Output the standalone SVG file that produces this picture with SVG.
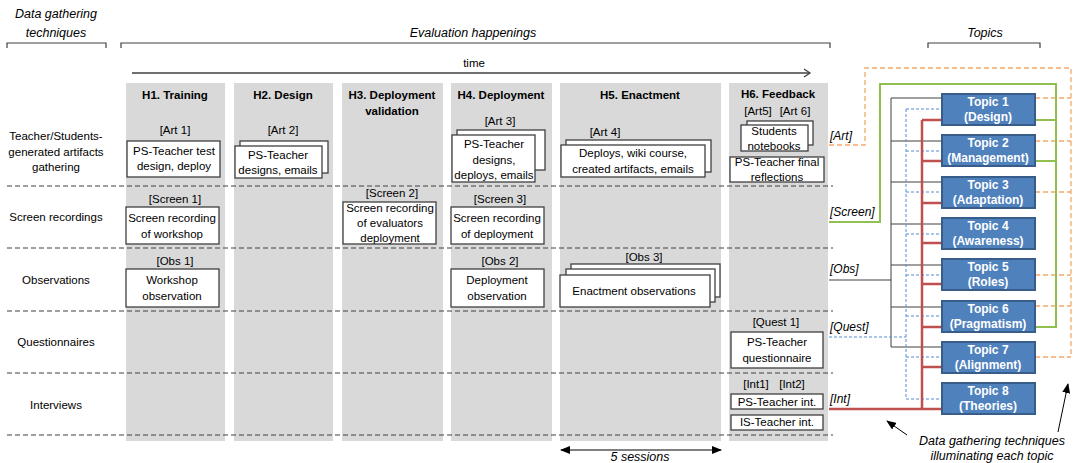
<svg xmlns="http://www.w3.org/2000/svg" width="1073" height="463" viewBox="0 0 1073 463">
<defs>
<style>
text{font-family:"Liberation Sans",Arial,sans-serif;font-size:11.5px;fill:#000;text-anchor:middle;dominant-baseline:central}
.b{font-weight:bold}
.i{font-style:italic;font-size:12.5px}
.il{font-style:italic;font-size:12px;text-anchor:start}
.col{fill:#d9d9d9}
.box{fill:#fff;stroke:#3f3f3f;stroke-width:1.3}
.row{stroke:#404040;stroke-width:1;stroke-dasharray:5,3;fill:none}
.brk{stroke:#404040;stroke-width:1.2;fill:none}
.topic rect{fill:#4f81bd;stroke:#385d8a;stroke-width:2}
.topic text{fill:#fff;font-weight:bold;font-size:12px}
.or{stroke:#f5a86a;stroke-width:1.3;stroke-dasharray:5,3;fill:none}
.gr{stroke:#92c050;stroke-width:2;fill:none}
.bk{stroke:#404040;stroke-width:1;fill:none}
.bl{stroke:#558ed5;stroke-width:1;stroke-dasharray:3,2;fill:none}
.rd{stroke:#c0504d;stroke-width:2.5;fill:none}
</style>
<marker id="chev" markerWidth="10" markerHeight="10" refX="8" refY="5" orient="auto" markerUnits="userSpaceOnUse">
<path d="M2,1 L8,5 L2,9" fill="none" stroke="#404040" stroke-width="1.3"/>
</marker>
<marker id="tri" markerWidth="10" markerHeight="8" refX="9" refY="4" orient="auto-start-reverse" markerUnits="userSpaceOnUse">
<path d="M0,0 L10,4 L0,8 Z" fill="#000"/>
</marker>
</defs>
<rect width="1073" height="463" fill="#fff"/>

<g id="headers">
<text class="i" x="56" y="14">Data gathering</text>
<text class="i" x="56" y="33">techniques</text>
<path class="brk" d="M7,48 V43 H106 V48"/>
<text class="i" x="473" y="33">Evaluation happenings</text>
<path class="brk" d="M121,48 V43 H830 V48"/>
<text class="i" x="985" y="33">Topics</text>
<path class="brk" d="M928,48 V43 H1040 V48"/>
<text x="474" y="63">time</text>
<path d="M132,73 H810" stroke="#404040" stroke-width="1.5" fill="none" marker-end="url(#chev)"/>
</g>

<g id="columns">
<rect class="col" x="126" y="83" width="99" height="358"/>
<rect class="col" x="234" y="83" width="99" height="358"/>
<rect class="col" x="342" y="83" width="101" height="358"/>
<rect class="col" x="451" y="83" width="101" height="358"/>
<rect class="col" x="560" y="83" width="161" height="358"/>
<rect class="col" x="729" y="83" width="99" height="358"/>
<text class="b" x="175" y="95">H1. Training</text>
<text class="b" x="283" y="95">H2. Design</text>
<text class="b" x="392" y="95">H3. Deployment</text>
<text class="b" x="392" y="111">validation</text>
<text class="b" x="501" y="95">H4. Deployment</text>
<text class="b" x="640" y="95">H5. Enactment</text>
<text class="b" x="778" y="94">H6. Feedback</text>
</g>

<g id="rows">
<path class="row" d="M7,186 H833 M7,248 H833 M7,311 H833 M7,373 H833 M7,435 H833"/>
<text x="56" y="136">Teacher/Students-</text>
<text x="56" y="152">generated artifacts</text>
<text x="56" y="167">gathering</text>
<text x="56" y="217">Screen recordings</text>
<text x="56" y="280">Observations</text>
<text x="56" y="342">Questionnaires</text>
<text x="56" y="405">Interviews</text>
</g>

<g id="art1">
<text x="175" y="130">[Art 1]</text>
<rect class="box" x="127" y="141" width="93" height="36"/>
<text x="174" y="151">PS-Teacher test</text>
<text x="174" y="166">design, deploy</text>
</g>
<g id="art2">
<text x="283" y="130">[Art 2]</text>
<rect class="box" x="240" y="141" width="88" height="32"/>
<rect class="box" x="235" y="146" width="87" height="32"/>
<text x="278" y="155">PS-Teacher</text>
<text x="278" y="170">designs, emails</text>
</g>
<g id="art3">
<text x="500" y="121">[Art 3]</text>
<rect class="box" x="457" y="130" width="88" height="40"/>
<rect class="box" x="452" y="135" width="83" height="47"/>
<text x="494" y="144">PS-Teacher</text>
<text x="494" y="160">designs,</text>
<text x="494" y="175">deploys, emails</text>
</g>
<g id="art4">
<text x="605" y="132">[Art 4]</text>
<rect class="box" x="566" y="140" width="145" height="32"/>
<rect class="box" x="561" y="145" width="144" height="32"/>
<text x="633" y="153">Deploys, wiki course,</text>
<text x="633" y="169">created artifacts, emails</text>
</g>
<g id="art56">
<text x="758" y="111">[Art5]</text>
<text x="795" y="111">[Art 6]</text>
<rect class="box" x="747" y="121" width="66" height="24"/>
<rect class="box" x="741" y="125" width="67" height="26"/>
<text x="774" y="131">Students</text>
<text x="774" y="146">notebooks</text>
<rect class="box" x="730" y="157" width="94" height="25"/>
<text x="777" y="162">PS-Teacher final</text>
<text x="777" y="177">reflections</text>
</g>

<g id="screen1">
<text x="175" y="199">[Screen 1]</text>
<rect class="box" x="126" y="207" width="93" height="37"/>
<text x="172" y="218">Screen recording</text>
<text x="172" y="234">of workshop</text>
</g>
<g id="screen2">
<text x="392" y="193">[Screen 2]</text>
<rect class="box" x="343" y="202" width="93" height="42"/>
<text x="390" y="208">Screen recording</text>
<text x="390" y="223">of evaluators</text>
<text x="390" y="238">deployment</text>
</g>
<g id="screen3">
<text x="500" y="199">[Screen 3]</text>
<rect class="box" x="451" y="207" width="93" height="37"/>
<text x="497" y="218">Screen recording</text>
<text x="497" y="234">of deployment</text>
</g>

<g id="obs1">
<text x="175" y="261">[Obs 1]</text>
<rect class="box" x="126" y="269" width="93" height="38"/>
<text x="172" y="280">Workshop</text>
<text x="172" y="296">observation</text>
</g>
<g id="obs2">
<text x="500" y="261">[Obs 2]</text>
<rect class="box" x="451" y="269" width="93" height="38"/>
<text x="497" y="280">Deployment</text>
<text x="497" y="296">observation</text>
</g>
<g id="obs3">
<text x="644" y="257">[Obs 3]</text>
<rect class="box" x="571" y="264" width="149" height="33"/>
<rect class="box" x="566" y="269" width="149" height="33"/>
<rect class="box" x="560" y="275" width="150" height="32"/>
<text x="634" y="291">Enactment observations</text>
</g>

<g id="quest1">
<text x="776" y="322">[Quest 1]</text>
<rect class="box" x="731" y="332" width="92" height="36"/>
<text x="777" y="342">PS-Teacher</text>
<text x="777" y="358">questionnaire</text>
</g>
<g id="int12">
<text x="756" y="384">[Int1]</text>
<text x="792" y="384">[Int2]</text>
<rect class="box" x="731" y="394" width="92" height="15"/>
<text x="777" y="402">PS-Teacher int.</text>
<rect class="box" x="731" y="415" width="92" height="15"/>
<text x="777" y="422">IS-Teacher int.</text>
</g>

<g id="connectors">
<path class="or" d="M829,145 H865 V68 H1071 V357 M1035,98 H1071 M1035,141 H1071 M1035,192 H1071 M1035,275 H1071 M1035,306 H1071 M1035,357 H1071"/>
<path class="gr" d="M829,222 H880 V84 H1056 V327 H1035 M1035,120 H1056 M1035,161 H1056"/>
<path class="bk" d="M829,280 H891 M891,98 V347 M891,98 H942 M891,141 H942 M891,182 H942 M891,224 H942 M891,265 H942 M891,307 H942 M891,347 H942"/>
<path class="bl" d="M829,337 H906 M906,109 V399 M906,109 H942 M906,151 H942 M906,192 H942 M906,234 H942 M906,275 H942 M906,316 H942 M906,357 H942 M906,399 H942"/>
<path class="rd" d="M829,409 H942 M922,120 V409 M922,120 H942 M922,161 H942 M922,203 H942 M922,243 H942 M922,284 H942 M922,327 H942 M922,367 H942"/>
<path d="M907,435 L887,421" stroke="#000" stroke-width="1" marker-end="url(#tri)"/>
<path d="M1058,432 L1068,384" stroke="#000" stroke-width="1" marker-end="url(#tri)"/>
<path d="M561,450 H721" stroke="#000" stroke-width="1" marker-start="url(#tri)" marker-end="url(#tri)"/>
</g>

<g id="labels">
<text class="il" x="830" y="136">[Art]</text>
<text class="il" x="830" y="212">[Screen]</text>
<text class="il" x="830" y="269">[Obs]</text>
<text class="il" x="830" y="327">[Quest]</text>
<text class="il" x="830" y="399">[Int]</text>
<text class="i" x="640" y="457">5 sessions</text>
<text class="i" x="992" y="441">Data gathering techniques</text>
<text class="i" x="992" y="456">illuminating each topic</text>
</g>

<g id="topic1" class="topic"><rect x="942" y="94" width="93" height="31"/><text x="988" y="102">Topic 1</text><text x="988" y="117">(Design)</text></g>
<g id="topic2" class="topic"><rect x="942" y="135" width="93" height="31"/><text x="988" y="143">Topic 2</text><text x="988" y="158">(Management)</text></g>
<g id="topic3" class="topic"><rect x="942" y="177" width="93" height="31"/><text x="988" y="185">Topic 3</text><text x="988" y="200">(Adaptation)</text></g>
<g id="topic4" class="topic"><rect x="942" y="218" width="93" height="31"/><text x="988" y="226">Topic 4</text><text x="988" y="241">(Awareness)</text></g>
<g id="topic5" class="topic"><rect x="942" y="259" width="93" height="31"/><text x="988" y="267">Topic 5</text><text x="988" y="282">(Roles)</text></g>
<g id="topic6" class="topic"><rect x="942" y="301" width="93" height="31"/><text x="988" y="309">Topic 6</text><text x="988" y="324">(Pragmatism)</text></g>
<g id="topic7" class="topic"><rect x="942" y="342" width="93" height="31"/><text x="988" y="350">Topic 7</text><text x="988" y="365">(Alignment)</text></g>
<g id="topic8" class="topic"><rect x="942" y="383" width="93" height="31"/><text x="988" y="391">Topic 8</text><text x="988" y="406">(Theories)</text></g>
</svg>
